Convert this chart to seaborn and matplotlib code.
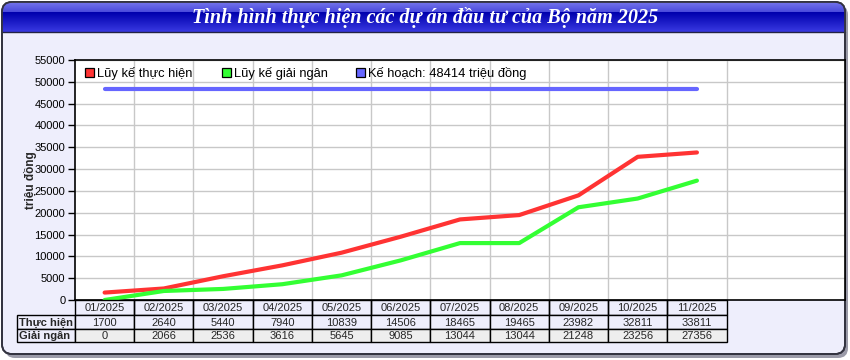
import numpy as np
import pandas as pd
import matplotlib
matplotlib.use("Agg")
import matplotlib.pyplot as plt
import matplotlib.transforms as mtransforms
from matplotlib.patches import FancyBboxPatch, Rectangle
import seaborn as sns

# ---- data ----
months = ["01/2025", "02/2025", "03/2025", "04/2025", "05/2025", "06/2025",
          "07/2025", "08/2025", "09/2025", "10/2025", "11/2025"]
thuc_hien = [1700, 2640, 5440, 7940, 10839, 14506, 18465, 19465, 23982, 32811, 33811]
giai_ngan = [0, 2066, 2536, 3616, 5645, 9085, 13044, 13044, 21248, 23256, 27356]
ke_hoach = 48414
series_names = ["Lũy kế thực hiện", "Lũy kế giải ngân", f"Kế hoạch: {ke_hoach} triệu đồng"]
row_labels = ["Thực hiện", "Giải ngân"]
title = "Tình hình thực hiện các dự án đầu tư của Bộ năm 2025"
ylabel = "triệu đồng"
yticks = list(range(0, 55001, 5000))

sns.set_theme(style="white")
plt.rcParams['font.family'] = ['Liberation Sans', 'DejaVu Sans']

W, H = 850, 360
fig = plt.figure(figsize=(W / 100, H / 100), dpi=100)
fig.patch.set_facecolor("white")

# background axes in pixel coordinates
bg = fig.add_axes([0, 0, 1, 1], zorder=0)
bg.set_xlim(0, W)
bg.set_ylim(H, 0)
bg.axis("off")
lav = "#EEEEFC"
bg.add_patch(FancyBboxPatch((5, 5), 843, 353, boxstyle="round,pad=0,rounding_size=10",
                            fc="#9a9aa8", ec="none", zorder=0))
bg.add_patch(FancyBboxPatch((2, 2), 843, 352, boxstyle="round,pad=0,rounding_size=10",
                            fc=lav, ec="#333340", lw=1.3, zorder=1))
# title bar gradient
grad = np.zeros((30, 1, 3))
for i in range(30):
    if i < 10:
        c = np.array([0.45, 0.45, 0.92]) * (1 - i / 10) + np.array([0.28, 0.28, 0.86]) * (i / 10)
    else:
        u = (i - 10) / 19
        c = np.array([0.0, 0.0, 0.68]) * (1 - u) + np.array([0.22, 0.22, 0.88]) * u
    grad[i, 0] = c
im = bg.imshow(grad, extent=(2, 845, 32, 2), aspect="auto", zorder=2, interpolation="bilinear")
clip = FancyBboxPatch((2, 2), 843, 60, boxstyle="round,pad=0,rounding_size=10",
                      fc="none", ec="none", transform=bg.transData)
im.set_clip_path(clip)
bg.plot([2, 845], [32, 32], color="#222244", lw=1, zorder=3)
bg.add_patch(FancyBboxPatch((2, 2), 843, 352, boxstyle="round,pad=0,rounding_size=10",
                            fc="none", ec="#333340", lw=1.3, zorder=4))
bg.text(425, 17, title, ha="center", va="center", color="white",
        fontsize=14.5, fontstyle="italic", fontweight="bold",
        family=["Liberation Serif", "DejaVu Serif"], zorder=5)

# main axes
L, R, T, B = 75, 845, 60, 300
ax = fig.add_axes([L / W, (H - B) / H, (R - L) / W, (B - T) / H], zorder=2)
ax.set_facecolor("white")

x = np.arange(len(months))
df = pd.DataFrame({
    "x": np.concatenate([x, x, x]),
    "value": thuc_hien + giai_ngan + [ke_hoach] * len(months),
    "series": [series_names[0]] * len(x) + [series_names[1]] * len(x) + [series_names[2]] * len(x),
})
colors = {series_names[0]: "#FF3333", series_names[1]: "#33FF33", series_names[2]: "#6666FF"}
sns.lineplot(data=df, x="x", y="value", hue="series", palette=colors, lw=3,
             ax=ax, legend=False, zorder=3)

ax.set_xlim(-0.5, 12.5)
ax.set_ylim(0, 55000)
ax.set_yticks(yticks)
ax.set_yticklabels([str(v) for v in yticks], fontsize=8, color="black")
ax.set_xticks([])
ax.tick_params(axis="y", length=5, width=1, color="black", pad=2, left=True)
for v in yticks[1:]:
    ax.axhline(v, color="#C8C8C8", lw=1, zorder=1)
for k in range(len(months)):
    ax.axvline(k + 0.5, color="#C8C8C8", lw=1, zorder=1)
ax.set_xlabel("")
ax.set_ylabel(ylabel, fontsize=8.5, fontweight="bold")
ax.yaxis.set_label_coords((37 - L) / (R - L), 0.5)
for s in ax.spines.values():
    s.set_color("black")
    s.set_linewidth(1.2)

# overlay axes for legend and table
ov = fig.add_axes([0, 0, 1, 1], zorder=5)
ov.set_xlim(0, W)
ov.set_ylim(H, 0)
ov.axis("off")

leg_y = 73
leg_items = [(85, series_names[0]), (222, series_names[1]), (356, series_names[2])]
for lx, name in leg_items:
    ov.add_patch(Rectangle((lx, leg_y - 5), 9, 9, fc=colors[name], ec="black", lw=0.9))
    ov.text(lx + 12, leg_y + 0.5, name, ha="left", va="center", fontsize=9.3,
            color="#000000")

# data table
trans = mtransforms.blended_transform_factory(ax.transData, ov.transData)
row_tops = [300, 315, 329]
row_h = [15, 14, 13]
lab_x0 = -0.5 - (75 - 17) / ((R - L) / 13)
for k, m in enumerate(months):
    ov.add_patch(Rectangle((k - 0.5, 300), 1, 15, transform=trans, fc="none", ec="black", lw=1))
    ov.text(k, 308, m, transform=trans, ha="center", va="center", fontsize=8)
for r, (vals, lab) in enumerate(zip([thuc_hien, giai_ngan], row_labels)):
    y0 = row_tops[r + 1]
    h = row_h[r + 1]
    fc = lav if r == 0 else "#EEEEEE"
    ov.add_patch(Rectangle((lab_x0, y0), -0.5 - lab_x0, h, transform=trans,
                           fc=lav, ec="black", lw=1))
    ov.text(lab_x0 + 0.04, y0 + h / 2 + 0.5, lab, transform=trans, ha="left", va="center",
            fontsize=8, fontweight="bold")
    for k, v in enumerate(vals):
        ov.add_patch(Rectangle((k - 0.5, y0), 1, h, transform=trans, fc=fc, ec="black", lw=1))
        ov.text(k, y0 + h / 2 + 0.5, str(v), transform=trans, ha="center", va="center",
                fontsize=8)

fig.savefig("out.png", dpi=100)
